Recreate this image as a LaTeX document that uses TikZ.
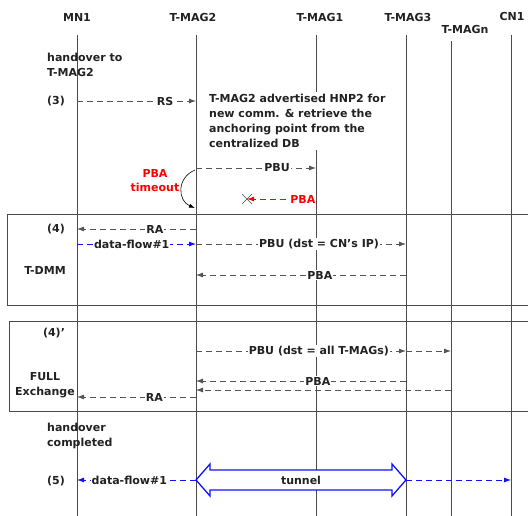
\documentclass[tikz,border=0pt]{standalone}
\usepackage{fontspec}
\setmainfont{DejaVu Sans}
\usetikzlibrary{arrows.meta,calc}
\definecolor{ln}{HTML}{4A4A4A}
\definecolor{msg}{HTML}{555555}
\definecolor{bl}{HTML}{1010FF}
\definecolor{rd}{HTML}{FF0000}
\definecolor{tx}{HTML}{222222}
\begin{document}
\begin{tikzpicture}[x=1pt,y=-1pt,
  txt/.style={font=\fontsize{11}{15}\selectfont\bfseries, text=tx, inner sep=1pt},
  hdr/.style={font=\fontsize{11}{15}\selectfont\bfseries, text=tx, inner sep=1pt},
  life/.style={draw=ln, line width=0.8pt},
  msgline/.style={draw=msg, line width=0.8pt, dash pattern=on 6pt off 4pt, -{Latex[length=7pt,width=5pt]}},
  bluemsg/.style={msgline, draw=bl, -{Latex[length=7pt,width=5pt,color=bl]}},
  redmsg/.style={msgline, draw=rd, -{Latex[length=7pt,width=5pt,color=rd]}},
  lbl/.style={txt, fill=white, inner sep=1pt},
  phasebox/.style={draw=ln, line width=0.9pt}
]
\useasboundingbox (0,0) rectangle (528,516);

% headers
\node[hdr] (hMN) at (77,17) {MN1};
\node[hdr] (hM2) at (193,17) {T-MAG2};
\node[hdr] (hM1) at (320,17) {T-MAG1};
\node[hdr] (hM3) at (408,17) {T-MAG3};
\node[hdr] (hMn) at (465,29) {T-MAGn};
\node[hdr] (hCN) at (512,16) {CN1};

% lifelines
\coordinate (tMN) at (77,35);  \coordinate (bMN) at (77,516);
\coordinate (tM2) at (196,35); \coordinate (bM2) at (196,516);
\coordinate (tM1) at (316,35); \coordinate (bM1) at (316,516);
\coordinate (tM3) at (406,35); \coordinate (bM3) at (406,516);
\coordinate (tMn) at (451,41); \coordinate (bMn) at (451,516);
\coordinate (tCN) at (511,35); \coordinate (bCN) at (511,516);
\draw[life] (tMN) -- (bMN);
\draw[life] (tM2) -- (bM2);
\draw[life] (tM1) -- (bM1);
\draw[life] (tM3) -- (bM3);
\draw[life] (tMn) -- (bMn);
\draw[life] (tCN) -- (bCN);

% phase boxes
\draw[phasebox] (531,214) -- (7,214) -- (7,305) -- (531,305);
\draw[phasebox] (531,321) -- (9,321) -- (9,411) -- (531,411);

% step (3)
\node[txt, anchor=west, align=left] (ho) at (46,65) {handover to\\T-MAG2};
\node[txt] (s3) at (56,101) {(3)};
\coordinate (rsA) at (77,101); \coordinate (rsB) at (196,101);
\draw[msgline] (rsA) -- node[lbl, pos=0.74] {RS} (rsB);

\node[txt, anchor=west, align=left, fill=white, inner sep=2pt] (adv) at (207,121)
  {T-MAG2 advertised HNP2 for\\new comm. \& retrieve the\\anchoring point from the\\centralized DB};

\coordinate (pbuA) at (196,168); \coordinate (pbuB) at (316,168);
\draw[msgline] (pbuA) -- node[lbl, pos=0.675] {PBU} (pbuB);

\coordinate (pbaA) at (316,199); \coordinate (xm) at (247,199);
\draw[redmsg] (pbaA) -- node[lbl, pos=0.19, text=rd] {PBA} (xm);
\draw[draw=ln, line width=0.6pt] ($(xm)+(-5,-5)$) -- ($(xm)+(5,5)$) ($(xm)+(-5,5)$) -- ($(xm)+(5,-5)$);

\node[txt, text=rd, align=center, font=\fontsize{11}{14}\selectfont\bfseries] (to) at (155,181) {PBA\\timeout};
\coordinate (toA) at (195,170); \coordinate (toB) at (195,208);
\draw[line width=0.6pt, -{Latex[length=6pt,width=4pt]}] (toA) .. controls (176,178) and (178,201) .. (toB);

% step (4) T-DMM
\node[txt] (s4) at (56,229) {(4)};
\node[txt] (tdmm) at (45,270) {T-DMM};
\coordinate (ra1A) at (196,229); \coordinate (ra1B) at (77,229);
\draw[msgline] (ra1A) -- node[lbl, pos=0.345] {RA} (ra1B);
\coordinate (df1A) at (77,244); \coordinate (df1B) at (196,244);
\draw[bluemsg] (df1A) -- node[lbl, pos=0.46] {data-flow\#1} (df1B);
\coordinate (pbu2A) at (196,244); \coordinate (pbu2B) at (406,244);
\draw[msgline] (pbu2A) -- node[lbl, pos=0.586] {PBU (dst = CN’s IP)} (pbu2B);
\coordinate (pba2A) at (406,275); \coordinate (pba2B) at (196,275);
\draw[msgline] (pba2A) -- node[lbl, pos=0.41] {PBA} (pba2B);

% step (4)' FULL exchange
\node[txt] (s4p) at (54,333) {(4)’};
\node[txt, align=center] (full) at (45,385) {FULL\\Exchange};
\coordinate (pbu3A) at (196,351); \coordinate (pbu3B) at (406,351); \coordinate (pbu3C) at (451,351);
\draw[msgline] (pbu3A) -- node[lbl, pos=0.585] {PBU (dst = all T-MAGs)} (pbu3B);
\draw[msgline] (pbu3B) -- (pbu3C);
\coordinate (pba3A) at (406,381); \coordinate (pba3B) at (196,381);
\draw[msgline] (pba3A) -- node[lbl, pos=0.42] {PBA} (pba3B);
\coordinate (pba4A) at (451,390); \coordinate (pba4B) at (196,390);
\draw[msgline] (pba4A) -- (pba4B);
\coordinate (ra2A) at (196,397); \coordinate (ra2B) at (77,397);
\draw[msgline] (ra2A) -- node[lbl, pos=0.35] {RA} (ra2B);

% step (5)
\node[txt, anchor=west, align=left] (hc) at (46,436) {handover\\completed};
\node[txt] (s5) at (56,481) {(5)};
\coordinate (df2A) at (196,480); \coordinate (df2B) at (77,480);
\draw[bluemsg] (df2A) -- node[lbl, pos=0.56] {data-flow\#1} (df2B);
\coordinate (df3A) at (406,480); \coordinate (df3B) at (511,480);
\draw[bluemsg] (df3A) -- (df3B);
% tunnel double arrow
\draw[draw=bl, fill=white, line width=1.3pt, line join=miter]
  (df2A) -- (210,464) -- (210,470) -- (392,470) -- (392,464) -- (df3A)
  -- (392,496) -- (392,490) -- (210,490) -- (210,496) -- cycle;
\node[txt] (tun) at (301,480) {tunnel};
\end{tikzpicture}
\end{document}
